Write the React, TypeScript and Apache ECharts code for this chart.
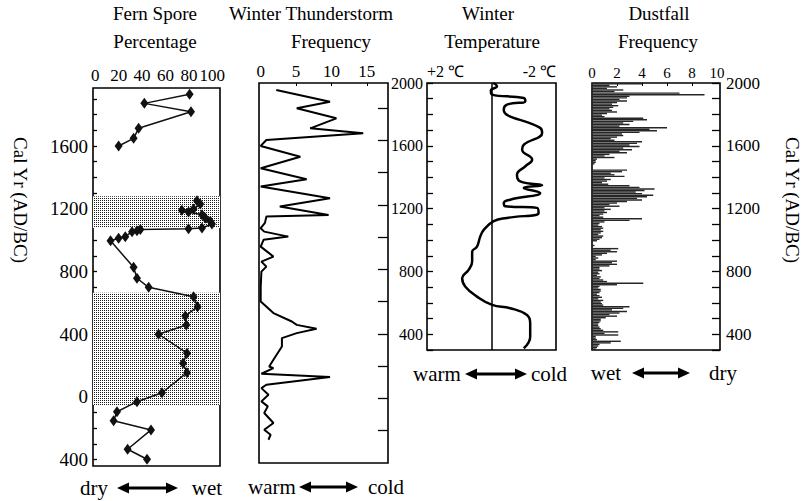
import React, { useEffect, useRef } from 'react';
import * as echarts from 'echarts';

const FONT = "'Liberation Serif', 'Times New Roman', serif";

// ---- Fern spore percentage (panel 1) ----
const fernYearsA = [1930, 1872, 1819, 1713, 1649, 1600];
const fernPctA = [80.6, 41.9, 81.8, 37, 32.7, 19.9];
const fernYearsB = [1251, 1230, 1198, 1190, 1179, 1162, 1141, 1120, 1103, 1077, 1073, 1068, 1060, 1054, 1022, 1012, 996, 827, 757, 699, 639, 576, 516, 459, 400, 279, 215, 155, 27, -30, -94, -151, -210, -333, -397];
const fernPctB = [86.9, 89.7, 84, 74, 79.7, 91.2, 94, 98.3, 99.7, 91.2, 79.7, 38.5, 35.6, 31.4, 25.6, 19.9, 13, 32.7, 35.6, 45.6, 84, 87.4, 76.9, 77.8, 54.1, 78.4, 75, 78.4, 57, 35.6, 18.5, 15.6, 47.6, 27.6, 44.2];
const fernBands = [[1280, 1077], [665, -51]];
const fernTicks = [-400, -300, -200, -100, 0, 100, 200, 300, 400, 500, 600, 700, 800, 900, 1000, 1100, 1200, 1300, 1400, 1500, 1600, 1700, 1800, 1900];
const fernYLabels = [-400, 0, 400, 800, 1200, 1600];
const fernXLabels = [0, 20, 40, 60, 80, 100];

// ---- Winter thunderstorm frequency (panel 2) ----
const thunderYears = [1911, 1839, 1798, 1736, 1674, 1643, 1602, 1565, 1498, 1427, 1359, 1313, 1241, 1189, 1137, 1127, 1088, 1055, 1034, 1003, 983, 941, 879, 848, 817, 786, 690, 601, 529, 477, 456, 432, 405, 374, 322, 240, 198, 188, 153, 133, 85, 64, 23, -18, -49, -90, -152, -194, -225, -256];
const thunderFreq = [2.2, 9.8, 5.1, 10.7, 7.0, 14.5, 0.8, 0, 5.6, 0, 6.5, 0, 9.8, 2.7, 9.6, 0.8, 0.6, 0, 0.5, 3.9, 0.4, 0, 1.8, 0.1, 0.8, 0.1, 0, 0, 1.8, 4.4, 5.1, 7.9, 5.1, 3, 3, 1.8, 1.2, 1.8, 0.1, 9.8, 0.8, 0.1, 1.1, 0.1, 1.0, 0.5, 1.8, 0.5, 1.4, 1.1];
const thunderTicks = [-200, 0, 200, 400, 600, 800, 1000, 1200, 1400, 1600, 1800];
const thunderXLabels = [0, 5, 10, 15];
const thunderXTicks = [5, 10, 15];

// ---- Winter temperature (panel 3) ----
const tempYears = [2000, 1979, 1951, 1926, 1905, 1884, 1862, 1830, 1714, 1682, 1607, 1575, 1512, 1470, 1416, 1374, 1349, 1332, 1300, 1257, 1236, 1215, 1205, 1173, 1141, 1120, 1065, 1022, 958, 926, 863, 810, 757, 703, 640, 587, 566, 523, 470, 385, 311];
const tempAnom = [-0.05, -0.17, 0.02, -0.02, -1.0, -1.05, -0.48, -0.38, -1.51, -1.57, -1.0, -0.95, -1.26, -1.05, -0.79, -0.89, -1.57, -1.0, -1.51, -0.58, -0.38, -0.43, -1.41, -1.46, -0.48, -0.07, 0.24, 0.35, 0.45, 0.6, 0.6, 0.71, 0.91, 0.81, 0.45, -0.02, -0.58, -1.1, -1.2, -1.2, -1.0];
const tempXLabels = [2, -2];

// ---- Dustfall frequency (panel 4), 10-year bins from 1995 downward ----
const dustFirstBin = 1995;
const dustBinStep = 10;
const dustValues = [
  4.0, 1.4, 2.0, 1.2, 2.5, 1.8, 7.0, 9.0, 3.0, 2.8,
  2.2, 2.8, 2.0, 1.6, 2.1, 1.7, 1.4, 1.6, 2.0, 1.2,
  0.8, 1.0, 4.1, 4.4, 3.3, 2.5, 3.0, 2.2, 6.0, 4.6,
  5.2, 3.8, 2.4, 2.5, 2.0, 1.5, 1.8, 4.0, 3.6, 3.0,
  3.8, 2.5, 3.2, 2.2, 2.8, 1.4, 1.0, 1.8, 0.4, 0.3,
  0.3, 0.2, 0, 0, 0, 2.8, 2.4, 1.5, 1.8, 2.6,
  1.0, 1.5, 1.2, 0.8, 1.3, 3.0, 3.8, 5.0, 4.2, 3.5,
  4.0, 4.9, 4.4, 3.6, 4.0, 2.8, 2.0, 1.4, 2.2, 1.0,
  1.5, 1.0, 1.2, 0.9, 0.6, 0.9, 4.0, 3.0, 1.0, 0.6,
  0.5, 0.8, 0.9, 0.7, 0.9, 0.7, 0.5, 0.9, 0.8, 0.6,
  0.4, 0, 0, 0.2, 0, 2.1, 1.5, 2.0, 1.2, 0.8,
  0.3, 0.5, 0.3, 2.0, 1.6, 2.0, 1.4, 0.6, 0.6, 0.8,
  0.5, 0.6, 0.4, 0.7, 0.6, 0.9, 1.2, 4.1, 2.0, 0.6,
  0.5, 0.7, 0.7, 0.6, 0.4, 0.6, 0.8, 0.5, 0.9, 0.7,
  0.8, 0.9, 3.0, 2.5, 1.6, 2.8, 2.2, 1.4, 2.0, 1.1,
  0.7, 0.7, 0.6, 0.5, 0.5, 0.6, 0.7, 0.9, 2.1, 1.0,
  2.1, 0.3, 0.3, 0.4, 2.3, 1.5, 0.6, 0.5, 0.4, 0.3,
];
const calTicks = [300, 400, 500, 600, 700, 800, 900, 1000, 1100, 1200, 1300, 1400, 1500, 1600, 1700, 1800, 1900, 2000];
const calLabels = [400, 800, 1200, 1600, 2000];
const dustXLabels = [0, 2, 4, 6, 8, 10];
const dustXTicks = [2, 4, 6, 8];

const pairs = (xs: number[], ys: number[]) => xs.map((x, i) => [x, ys[i]]);

function stipple(): any {
  try {
    const c = document.createElement('canvas');
    c.width = 2;
    c.height = 2;
    const ctx = c.getContext('2d');
    if (!ctx) return '#c4c4c4';
    ctx.fillStyle = '#ffffff';
    ctx.fillRect(0, 0, 2, 2);
    ctx.fillStyle = '#1a1a1a';
    ctx.fillRect(0, 0, 1, 1);
    return { image: c, repeat: 'repeat' };
  } catch (e) {
    return '#c4c4c4';
  }
}

function text(x: number, y: number, t: string, size: number, extra: any = {}) {
  return {
    type: 'text', x, y, silent: true, ...extra,
    style: { text: t, fill: '#000', fontFamily: FONT, fontSize: size, textAlign: 'center', textVerticalAlign: 'middle' },
  };
}

function arrow(x1: number, x2: number, y: number) {
  return [
    { type: 'line', silent: true, shape: { x1: x1 + 8, y1: y, x2: x2 - 8, y2: y }, style: { stroke: '#000', lineWidth: 3 } },
    { type: 'polygon', silent: true, shape: { points: [[x1, y], [x1 + 12, y - 5.5], [x1 + 12, y + 5.5]] }, style: { fill: '#000' } },
    { type: 'polygon', silent: true, shape: { points: [[x2, y], [x2 - 12, y - 5.5], [x2 - 12, y + 5.5]] }, style: { fill: '#000' } },
  ];
}

const gridBase = { show: true, borderColor: '#000', borderWidth: 1.6, backgroundColor: 'transparent', containLabel: false, outerBoundsMode: 'none' };
const lbl = (size: number, margin: number, extra: any = {}) => ({ color: '#000', fontFamily: FONT, fontSize: size, margin, formatter: (v: number) => String(v), ...extra });
const noLine = { show: false, onZero: false };
const noSplit = { show: false };

function buildOption(): any {
  return {
    animation: false,
    backgroundColor: '#fff',
    grid: [
      { ...gridBase, left: 93, top: 88, width: 127, height: 378 },
      { ...gridBase, left: 259, top: 83, width: 129, height: 380 },
      { ...gridBase, left: 427, top: 83, width: 129, height: 267 },
      { ...gridBase, left: 592, top: 83, width: 128, height: 267 },
    ],
    xAxis: [
      { gridIndex: 0, type: 'value', position: 'top', min: -2, max: 106.6, axisLine: noLine, splitLine: noSplit,
        axisTick: { show: false }, axisLabel: lbl(17, 4, { customValues: fernXLabels }) },
      { gridIndex: 1, type: 'value', position: 'top', min: -0.24, max: 18, axisLine: noLine, splitLine: noSplit,
        axisTick: { show: true, inside: true, length: 3, customValues: thunderXTicks, lineStyle: { color: '#000' } },
        axisLabel: lbl(17, 3, { customValues: thunderXLabels }) },
      { gridIndex: 2, type: 'value', position: 'top', inverse: true, min: -2, max: 2, axisLine: noLine, splitLine: noSplit,
        axisTick: { show: false },
        axisLabel: lbl(16, 4, { customValues: tempXLabels, alignMinLabel: 'left', alignMaxLabel: 'right',
          formatter: (v: number) => (v > 0 ? '+2 ℃' : '-2 ℃') }) },
      { gridIndex: 3, type: 'value', position: 'top', min: 0, max: 10.24, axisLine: noLine, splitLine: noSplit,
        axisTick: { show: true, inside: true, length: 3, customValues: dustXTicks, lineStyle: { color: '#000' } },
        axisLabel: lbl(15, 3, { customValues: dustXLabels }) },
    ],
    yAxis: [
      { gridIndex: 0, type: 'value', position: 'left', min: -440, max: 1970, axisLine: noLine, splitLine: noSplit,
        axisTick: { show: true, inside: true, length: 4, customValues: fernTicks, lineStyle: { color: '#000', width: 1.3 } },
        axisLabel: lbl(19, 5, { customValues: fernYLabels, formatter: (v: number) => String(Math.abs(v)) }) },
      { gridIndex: 1, type: 'value', position: 'right', min: -400, max: 1955, axisLine: noLine, splitLine: noSplit,
        axisTick: { show: true, inside: true, length: 10, customValues: thunderTicks, lineStyle: { color: '#000', width: 1.3 } },
        axisLabel: { show: false } },
      { gridIndex: 2, type: 'value', position: 'left', min: 300, max: 2000, axisLine: noLine, splitLine: noSplit,
        axisTick: { show: true, inside: true, length: 6, customValues: calTicks, lineStyle: { color: '#000', width: 1.3 } },
        axisLabel: lbl(16, 4, { customValues: calLabels }) },
      { gridIndex: 3, type: 'value', position: 'right', min: 300, max: 2000, axisLine: noLine, splitLine: noSplit,
        axisTick: { show: true, inside: true, length: 8, customValues: calTicks, lineStyle: { color: '#000', width: 1.3 } },
        axisLabel: lbl(17, 6, { customValues: calLabels }) },
    ],
    series: [
      {
        type: 'line', xAxisIndex: 0, yAxisIndex: 0, data: pairs(fernPctA, fernYearsA),
        symbol: 'diamond', symbolSize: [8, 11], itemStyle: { color: '#111' }, lineStyle: { color: '#111', width: 1.5 },
        markArea: {
          silent: true, itemStyle: { color: stipple() },
          data: fernBands.map(([a, b]) => [{ yAxis: a }, { yAxis: b }]),
        },
        z: 3,
      },
      {
        type: 'line', xAxisIndex: 0, yAxisIndex: 0, data: pairs(fernPctB, fernYearsB),
        symbol: 'diamond', symbolSize: [8, 11], itemStyle: { color: '#111' }, lineStyle: { color: '#111', width: 1.5 }, z: 3,
      },
      {
        type: 'line', xAxisIndex: 1, yAxisIndex: 1, data: pairs(thunderFreq, thunderYears),
        showSymbol: false, lineStyle: { color: '#000', width: 2 },
      },
      {
        type: 'line', xAxisIndex: 2, yAxisIndex: 2, data: pairs(tempAnom, tempYears),
        showSymbol: false, smooth: 0.45, lineStyle: { color: '#000', width: 2.5 },
        markLine: {
          silent: true, symbol: 'none', label: { show: false },
          lineStyle: { color: '#000', width: 1.5, type: 'solid' },
          data: [{ xAxis: 0 }],
        },
      },
      {
        type: 'custom', xAxisIndex: 3, yAxisIndex: 3,
        data: dustValues.map((v, i) => [v, dustFirstBin - i * dustBinStep]),
        encode: { x: 0, y: 1 },
        renderItem: (params: any, api: any) => {
          const v = api.value(0);
          const yr = api.value(1);
          const p0 = api.coord([0, yr]);
          const p1 = api.coord([v, yr]);
          const h = api.size([0, dustBinStep])[1];
          return {
            type: 'rect',
            shape: { x: p0[0], y: p0[1] - h / 2, width: Math.max(0, p1[0] - p0[0]), height: h * 0.9 },
            style: { fill: '#262626' },
          };
        },
      },
    ],
    graphic: [
      text(155, 13, 'Fern Spore', 19),
      text(155, 41, 'Percentage', 19),
      text(311, 13, 'Winter Thunderstorm', 19),
      text(331, 41, 'Frequency', 19),
      text(488, 13, 'Winter', 19),
      text(492, 41, 'Temperature', 19),
      text(659, 13, 'Dustfall', 19),
      text(658, 41, 'Frequency', 19),
      text(20, 200, 'Cal Yr (AD/BC)', 19, { rotation: -Math.PI / 2 }),
      text(792, 200, 'Cal Yr (AD/BC)', 19, { rotation: -Math.PI / 2 }),
      text(94, 488, 'dry', 21),
      ...arrow(117, 178, 488),
      text(207, 488, 'wet', 21),
      text(272, 487, 'warm', 21),
      ...arrow(299, 358, 487),
      text(386, 487, 'cold', 21),
      text(437, 374, 'warm', 21),
      ...arrow(465, 527, 374),
      text(549, 374, 'cold', 21),
      text(606, 373, 'wet', 21),
      ...arrow(632, 690, 373),
      text(723, 373, 'dry', 21),
    ],
  };
}

export default function App() {
  const ref = useRef<HTMLDivElement>(null);
  useEffect(() => {
    if (!ref.current) return;
    const chart = echarts.init(ref.current, null, { renderer: 'svg' });
    chart.setOption(buildOption());
    return () => chart.dispose();
  }, []);
  return <div ref={ref} style={{ position: 'fixed', left: 0, top: 0, width: 803, height: 501, background: '#fff' }} />;
}
